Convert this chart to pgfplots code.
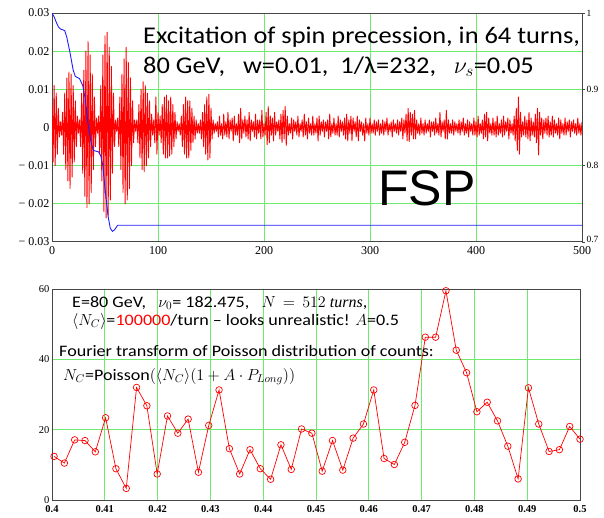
\RequirePackage{fix-cm}
\documentclass[border=0pt]{standalone}
\usepackage{pgfplots}
\pgfplotsset{compat=1.18}
\usepackage{pgfplotstable}
\usepackage{fontspec}
\setmainfont{Liberation Serif}
\newfontfamily\calfont[FakeStretch=1.1]{Carlito}
\newfontfamily\calfontb[FakeStretch=1.13]{Carlito}
\newfontfamily\arialfont{Liberation Sans}
\definecolor{gridgreen}{RGB}{110,235,110}
\definecolor{blueline}{RGB}{30,30,255}
\definecolor{axgray}{RGB}{70,70,70}

\pgfplotstableread[header=false,row sep=\\]{
0.006\\-0.009\\0.011\\-0.01\\0.009\\-0.007\\0.005\\-0.0025\\0.0015\\-0.002\\
0.004\\-0.007\\0.009\\-0.011\\0.013\\-0.014\\0.0145\\-0.016\\0.014\\-0.013\\
0.011\\-0.009\\0.007\\-0.005\\0.003\\-0.0015\\0.002\\-0.005\\0.009\\-0.012\\
0.015\\-0.018\\0.02\\-0.021\\0.0225\\-0.02\\0.019\\-0.017\\0.014\\-0.011\\
0.008\\-0.005\\0.0025\\-0.0015\\0.003\\-0.007\\0.011\\-0.014\\0.019\\-0.022\\
0.024\\-0.0237\\0.025\\-0.023\\0.021\\-0.019\\0.016\\-0.012\\0.009\\-0.005\\
0.002\\-0.001\\0.0025\\-0.005\\0.008\\-0.011\\0.014\\-0.017\\0.018\\-0.02\\
0.021\\-0.019\\0.017\\-0.016\\0.013\\-0.01\\0.007\\-0.004\\0.002\\-0.001\\
0.002\\-0.004\\0.006\\-0.008\\0.01\\-0.011\\0.012\\-0.0116\\0.011\\-0.01\\
0.009\\-0.008\\0.007\\-0.005\\0.0035\\-0.002\\0.002\\-0.004\\0.008\\-0.007\\
0.004\\-0.002\\0.003\\-0.004\\0.006\\-0.007\\0.008\\-0.008\\0.0085\\-0.008\\
0.007\\-0.0075\\0.008\\-0.007\\0.006\\-0.005\\0.004\\-0.003\\0.0015\\-0.001\\
0.001\\-0.002\\0.003\\-0.005\\0.006\\-0.007\\0.008\\-0.008\\0.007\\-0.008\\
0.007\\-0.006\\0.005\\-0.004\\0.003\\-0.003\\0.002\\-0.0015\\0.001\\-0.0015\\
0.002\\-0.003\\0.004\\-0.005\\0.006\\-0.007\\0.008\\-0.0085\\0.0087\\-0.008\\
0.005\\-0.003\\0.002\\-0.0015\\0.001\\
-0.001\\0.0015\\-0.0025\\0.003\\-0.002\\0.001\\-0.003\\0.0035\\-0.002\\0.0015\\
-0.0025\\0.004\\-0.003\\0.002\\-0.001\\0.0025\\-0.0035\\0.003\\-0.002\\0.001\\
-0.002\\0.0035\\-0.004\\0.005\\-0.003\\0.002\\-0.0015\\0.003\\-0.0025\\0.002\\
-0.003\\0.004\\-0.0035\\0.002\\-0.001\\0.0015\\-0.0025\\0.0035\\-0.003\\0.002\\
-0.0015\\0.002\\-0.003\\0.0045\\-0.0025\\0.001\\-0.002\\0.004\\-0.0045\\0.0055\\
-0.004\\0.003\\-0.002\\0.0025\\-0.0035\\0.004\\-0.002\\0.0015\\-0.001\\0.002\\
-0.003\\0.0035\\-0.004\\0.0045\\-0.003\\0.0055\\-0.0047\\0.003\\-0.002\\0.001\\
-0.0015\\0.0025\\-0.003\\0.002\\-0.001\\0.0015\\-0.002\\0.003\\-0.0025\\0.001\\
-0.001\\0.002\\-0.0025\\0.0035\\-0.002\\0.0015\\-0.003\\0.0025\\-0.0015\\0.001\\
-0.002\\0.003\\-0.002\\0.001\\-0.0015\\0.0025\\-0.0035\\0.003\\-0.002\\0.0015\\
-0.001\\0.002\\-0.0025\\0.0015\\-0.001\\0.002\\-0.003\\0.0035\\-0.0025\\0.001\\
-0.0015\\0.0025\\-0.002\\0.001\\-0.002\\0.003\\-0.0025\\0.002\\-0.001\\0.0015\\
-0.002\\0.0025\\-0.003\\0.0035\\-0.0035\\0.002\\-0.0015\\0.003\\-0.0035\\0.0025\\
-0.001\\0.0015\\-0.0025\\0.003\\-0.0035\\0.002\\-0.001\\0.0015\\-0.002\\0.001\\
-0.0035\\0.0025\\-0.0015\\0.001\\-0.002\\0.0025\\-0.0015\\0.001\\-0.0015\\0.002\\
-0.002\\0.0015\\-0.001\\0.002\\-0.002\\0.001\\-0.0015\\0.002\\-0.002\\0.0015\\
-0.001\\0.0025\\-0.002\\0.001\\-0.001\\0.0015\\-0.0025\\0.002\\-0.001\\0.001\\
-0.0015\\0.002\\-0.002\\0.0015\\-0.001\\0.0025\\-0.003\\0.002\\-0.0015\\0.0035\\
-0.0035\\0.005\\-0.0037\\0.004\\-0.002\\0.0035\\-0.003\\0.0045\\-0.003\\0.002\\
-0.0015\\0.001\\-0.002\\0.0025\\-0.0015\\0.001\\-0.002\\0.002\\-0.0015\\0.001\\
-0.001\\0.002\\-0.0025\\0.0015\\-0.001\\0.0015\\-0.002\\0.0025\\-0.0015\\0.001\\
-0.002\\0.004\\-0.0025\\0.0015\\-0.001\\0.002\\-0.003\\0.0045\\-0.003\\0.002\\
-0.0015\\0.001\\-0.0015\\0.002\\-0.002\\0.0015\\-0.001\\0.001\\-0.0015\\0.002\\
-0.002\\0.0015\\-0.001\\0.0025\\-0.002\\0.001\\-0.0015\\0.002\\-0.0025\\0.0015\\
-0.001\\0.001\\-0.002\\0.0025\\-0.002\\0.0015\\-0.0025\\0.003\\-0.002\\0.001\\
-0.0015\\0.002\\-0.003\\0.0035\\-0.0025\\0.004\\-0.0035\\0.0025\\-0.0015\\0.001\\
-0.002\\0.0025\\-0.002\\0.0015\\-0.0025\\0.003\\-0.002\\0.001\\-0.0015\\0.002\\
-0.0025\\0.003\\-0.002\\0.0015\\-0.001\\0.0025\\-0.003\\0.002\\-0.0015\\0.001\\
-0.002\\0.003\\-0.0035\\0.005\\-0.006\\0.008\\-0.007\\0.004\\-0.0025\\0.0015\\
-0.002\\0.003\\-0.0025\\0.002\\-0.003\\0.004\\-0.0035\\0.0025\\-0.002\\0.0015\\
-0.0025\\0.0035\\-0.004\\0.005\\-0.0072\\0.004\\-0.002\\0.0025\\-0.003\\0.002\\
-0.0015\\0.0025\\-0.002\\0.003\\-0.0025\\0.0015\\-0.002\\0.003\\-0.0025\\0.002\\
-0.0015\\0.001\\-0.002\\0.0025\\-0.003\\0.002\\-0.0015\\0.001\\-0.002\\0.0025\\
-0.002\\0.0015\\-0.001\\0.002\\-0.0025\\0.0015\\-0.001\\0.002\\-0.0015\\0.001\\
-0.002\\0.0025\\-0.0015\\0.001\\-0.002\\0.0015\\
}\redsig

\begin{document}
\begin{tikzpicture}
\useasboundingbox (0pt,0pt) rectangle (604pt,-517pt);
% ---------- top panel ----------
\begin{axis}[at={(52pt,-13pt)}, anchor=north west, width=530pt, height=229pt, scale only axis,
  xmin=0, xmax=500, ymin=-0.03, ymax=0.03,
  scaled x ticks=false, scaled y ticks=false,
  xtick={0,100,200,300,400,500}, xticklabels={0,100,200,300,400,500},
  ytick={-0.03,-0.02,-0.01,0,0.01,0.02,0.03},
  yticklabels={− 0.03,− 0.02,− 0.01,0,0.01,0.02,0.03},
  grid=major, grid style={gridgreen, line width=1pt},
  major tick length=0pt,
  axis line style={axgray, line width=1pt},
  tick label style={font=\fontsize{12}{12}\selectfont},
  /pgf/number format/assume math mode=true,
  yticklabel style={xshift=1pt},
  xticklabel style={yshift=-1pt},
]
\addplot[red, no markers, line width=0.9pt, line join=round] table[x expr=\coordindex, y index=0] {\redsig};
\end{axis}
\begin{axis}[at={(52pt,-13pt)}, anchor=north west, width=530pt, height=229pt, scale only axis,
  xmin=0, xmax=500, ymin=0.7, ymax=1,
  scaled y ticks=false,
  axis x line=none, axis y line*=right,
  ytick={0.8,0.9,1}, yticklabels={0.8,0.9,1},
  extra y ticks={0.7}, extra y tick labels={0.7},
  extra y tick style={yticklabel style={yshift=3pt}},
  tick align=outside, major tick length=3pt,
  axis line style={axgray, line width=1pt},
  tick style={axgray, line width=0.8pt},
  tick label style={font=\fontsize{9.5}{9.5}\selectfont},
  /pgf/number format/assume math mode=true,
  yticklabel style={xshift=-2pt},
]
\addplot[blueline, line width=0.9pt] coordinates {
(0,1.0) (2,0.995) (4,0.988) (6,0.982) (8,0.979) (12,0.977) (14,0.968) (17,0.948)
(20,0.925) (22,0.917) (26,0.914) (29,0.905) (31,0.89) (34,0.855) (37,0.83) (39,0.82)
(44,0.818) (46,0.813) (48,0.8) (50,0.77) (53,0.733) (55,0.718) (57,0.714) (59,0.716)
(62,0.722) (500,0.722)};
\end{axis}
\node[anchor=base west, inner sep=0pt, font=\calfont\fontsize{24}{24}\selectfont] at (143pt,-43.3pt)
  {Excitation of spin precession, in 64 turns,};
\node[anchor=base west, inner sep=0pt, font=\calfont\fontsize{24}{24}\selectfont] at (143pt,-73.3pt)
  {80 GeV,\ \ \ w=0.01,\ \ 1/λ=232,\ \ \ $\nu_s$=0.05};
\node[anchor=base west, inner sep=0pt, font=\arialfont\fontsize{50}{50}\selectfont] at (378pt,-205pt)
  {FSP};
% ---------- bottom panel ----------
\begin{axis}[at={(52pt,-289pt)}, anchor=north west, width=528pt, height=211pt, scale only axis,
  xmin=0.4, xmax=0.5, ymin=0, ymax=60,
  scaled x ticks=false, scaled y ticks=false,
  xtick={0.4,0.41,0.42,0.43,0.44,0.45,0.46,0.47,0.48,0.49,0.5},
  xticklabels={0.4,0.41,0.42,0.43,0.44,0.45,0.46,0.47,0.48,0.49,0.5},
  ytick={0,20,40,60}, yticklabels={0,20,40,60},
  grid=major, grid style={gridgreen, line width=1pt},
  major tick length=0pt,
  axis line style={axgray, line width=1pt},
  xticklabel style={font=\bfseries\fontsize{10.5}{10.5}\selectfont, yshift=-1.5pt},
  yticklabel style={font=\fontsize{10.5}{10.5}\selectfont, xshift=1pt},
  /pgf/number format/assume math mode=true,
]
\addplot[red, line width=0.7pt, mark=o, mark size=3.3pt, mark options={line width=0.7pt}] coordinates {
(0.400391,12.4) (0.402344,10.5) (0.404297,17.1) (0.406250,16.9) (0.408203,13.7)
(0.410156,23.4) (0.412109,8.9) (0.414063,3.3) (0.416016,32.0) (0.417969,26.8)
(0.419922,7.4) (0.421875,23.9) (0.423828,19.0) (0.425781,23.0) (0.427734,7.9)
(0.429688,21.2) (0.431641,31.3) (0.433594,14.6) (0.435547,7.4) (0.437500,14.3)
(0.439453,8.9) (0.441406,5.9) (0.443359,15.7) (0.445313,8.7) (0.447266,20.2)
(0.449219,19.0) (0.451172,8.2) (0.453125,16.9) (0.455078,8.5) (0.457031,17.6)
(0.458984,21.6) (0.460938,31.3) (0.462891,11.8) (0.464844,10.1) (0.466797,16.4)
(0.468750,26.9) (0.470703,46.3) (0.472656,46.3) (0.474609,59.5) (0.476563,42.6)
(0.478516,36.2) (0.480469,25.1) (0.482422,27.8) (0.484375,22.5) (0.486328,15.3)
(0.488281,6.0) (0.490234,31.9) (0.492188,21.6) (0.494141,13.8) (0.496094,14.3)
(0.498047,20.9) (0.500000,17.3)};
\end{axis}
\begin{scope}[every node/.style={anchor=base west, inner sep=0pt, font=\calfontb\fontsize{16}{16}\selectfont}]
\node at (72pt,-307pt) {E=80 GeV,\ \ \ $\nu_0$= 182.475,\ \ \ $N\,=\,512\ \mathit{turns}$,};
\node at (72pt,-325pt) {$\langle N_C\rangle$=\textcolor{red}{100000}/turn – looks unrealistic! $A$=0.5};
\node at (59pt,-356pt) {Fourier transform of Poisson distribution of counts:};
\node at (63pt,-380pt) {$N_C$=Poisson$\Big(\langle N_C\rangle\big(1+A\cdot P_{Long}\big)\Big)$};
\end{scope}
\end{tikzpicture}
\end{document}
